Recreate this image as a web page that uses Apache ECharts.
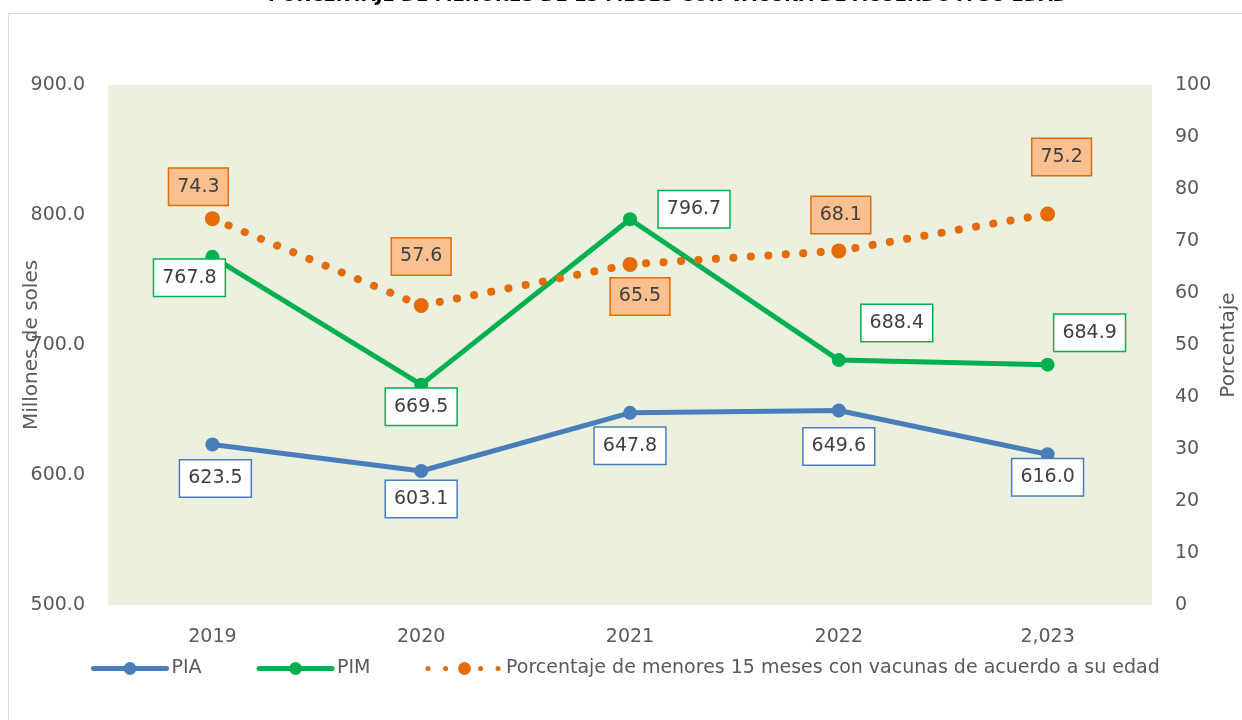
<!DOCTYPE html>
<html>
<head>
<meta charset="utf-8">
<script src="https://cdn.jsdelivr.net/npm/echarts@6/dist/echarts.min.js"></script>
<style>
  html, body { margin: 0; padding: 0; background: #fff; }
  #main { width: 1242px; height: 720px; }
</style>
</head>
<body>
<div id="main"></div>
<script>
// datos
var years = ["2019", "2020", "2021", "2022", "2,023"];
var pia = [623.5, 603.1, 647.8, 649.6, 616.0];
var pim = [767.8, 669.5, 796.7, 688.4, 684.9];
var porcentaje = [74.3, 57.6, 65.5, 68.1, 75.2];

// desplazamiento de las etiquetas (px)
var piaOffsets = [[3, 34], [0, 28], [0, 33], [0, 36], [0, 23]];
var pimOffsets = [[-23, 21], [0, 22], [64, -10], [58, -37], [42, -32]];
var pctOffsets = [[-14, -32], [0, -49], [10, 32], [2, -36], [14, -57]];

var font = "'DejaVu Sans', Verdana, sans-serif";

function buildData(values, offsets, fill, border) {
  return values.map(function (v, i) {
    return {
      value: v,
      label: {
        show: true,
        position: "inside",
        offset: offsets[i],
        formatter: function (p) { return p.value.toFixed(1); },
        fontFamily: font,
        fontSize: 19,
        lineHeight: 19,
        color: "#404040",
        backgroundColor: fill,
        borderColor: border,
        borderWidth: 1.5,
        padding: [9, 8, 8, 8],
      },
    };
  });
}

var myChart = echarts.init(document.getElementById("main"));

var option = {
  backgroundColor: "#fff",
  animation: false,
  title: {
    text: "PORCENTAJE DE MENORES DE 15 MESES CON VACUNA DE ACUERDO A SU EDAD",
    left: 263,
    top: -18,
    textStyle: { fontFamily: font, fontSize: 18, fontWeight: "bold", color: "#000" },
  },
  graphic: [
    {
      type: "rect",
      shape: { x: 8.5, y: 13.5, width: 1260, height: 720 },
      style: { fill: "none", stroke: "#d9d9d9", lineWidth: 1 },
      z: -10,
    },
  ],
  grid: {
    left: 108,
    right: 90,
    top: 85,
    bottom: 115,
    outerBoundsMode: "none",
    containLabel: false,
    show: true,
    backgroundColor: "#EBF1DE",
    borderWidth: 0,
  },
  legend: {
    top: 654,
    left: 86,
    itemWidth: 73,
    itemHeight: 16,
    itemGap: 55,
    lineStyle: { width: 5, cap: "round" },
    textStyle: { fontFamily: font, fontSize: 19, color: "#595959" },
    data: ["PIA", "PIM", "Porcentaje de menores 15 meses con vacunas de acuerdo a su edad"],
  },
  xAxis: {
    type: "category",
    data: years,
    axisLine: { show: false },
    axisTick: { show: false },
    axisLabel: { fontFamily: font, fontSize: 19, color: "#595959", margin: 23 },
  },
  yAxis: [
    {
      type: "value",
      min: 500,
      max: 900,
      interval: 100,
      name: "Millones de soles",
      nameLocation: "middle",
      nameRotate: 90,
      nameGap: 66,
      nameMoveOverlap: false,
      nameTextStyle: { fontFamily: font, fontSize: 20, color: "#595959" },
      splitLine: { show: false },
      axisLine: { show: false },
      axisTick: { show: false },
      axisLabel: {
        fontFamily: font, fontSize: 19, color: "#595959", margin: 23,
        formatter: function (v) { return v.toFixed(1); },
      },
    },
    {
      type: "value",
      min: 0,
      max: 100,
      interval: 10,
      position: "right",
      name: "Porcentaje",
      nameLocation: "middle",
      nameRotate: 90,
      nameGap: 67,
      nameMoveOverlap: false,
      nameTextStyle: { fontFamily: font, fontSize: 20, color: "#595959" },
      splitLine: { show: false },
      axisLine: { show: false },
      axisTick: { show: false },
      axisLabel: { fontFamily: font, fontSize: 19, color: "#595959", margin: 23 },
    },
  ],
  series: [
    {
      name: "PIA",
      type: "line",
      yAxisIndex: 0,
      data: buildData(pia, piaOffsets, "#fff", "#4a7ebb"),
      symbol: "circle",
      symbolSize: 14,
      lineStyle: { color: "#4a7ebb", width: 5, cap: "round" },
      itemStyle: { color: "#4a7ebb" },
      z: 3,
    },
    {
      name: "PIM",
      type: "line",
      yAxisIndex: 0,
      data: buildData(pim, pimOffsets, "#fff", "#00B050"),
      symbol: "circle",
      symbolSize: 14,
      lineStyle: { color: "#00B050", width: 5, cap: "round" },
      itemStyle: { color: "#00B050" },
      z: 4,
    },
    {
      name: "Porcentaje de menores 15 meses con vacunas de acuerdo a su edad",
      type: "line",
      yAxisIndex: 1,
      data: buildData(porcentaje, pctOffsets, "#FAC090", "#E46C0A"),
      symbol: "circle",
      symbolSize: 15,
      lineStyle: { color: "#E46C0A", width: 8, type: [0.1, 17.4], cap: "round" },
      itemStyle: { color: "#E46C0A" },
      z: 5,
    },
  ],
};

myChart.setOption(option, true);
</script>
</body>
</html>
